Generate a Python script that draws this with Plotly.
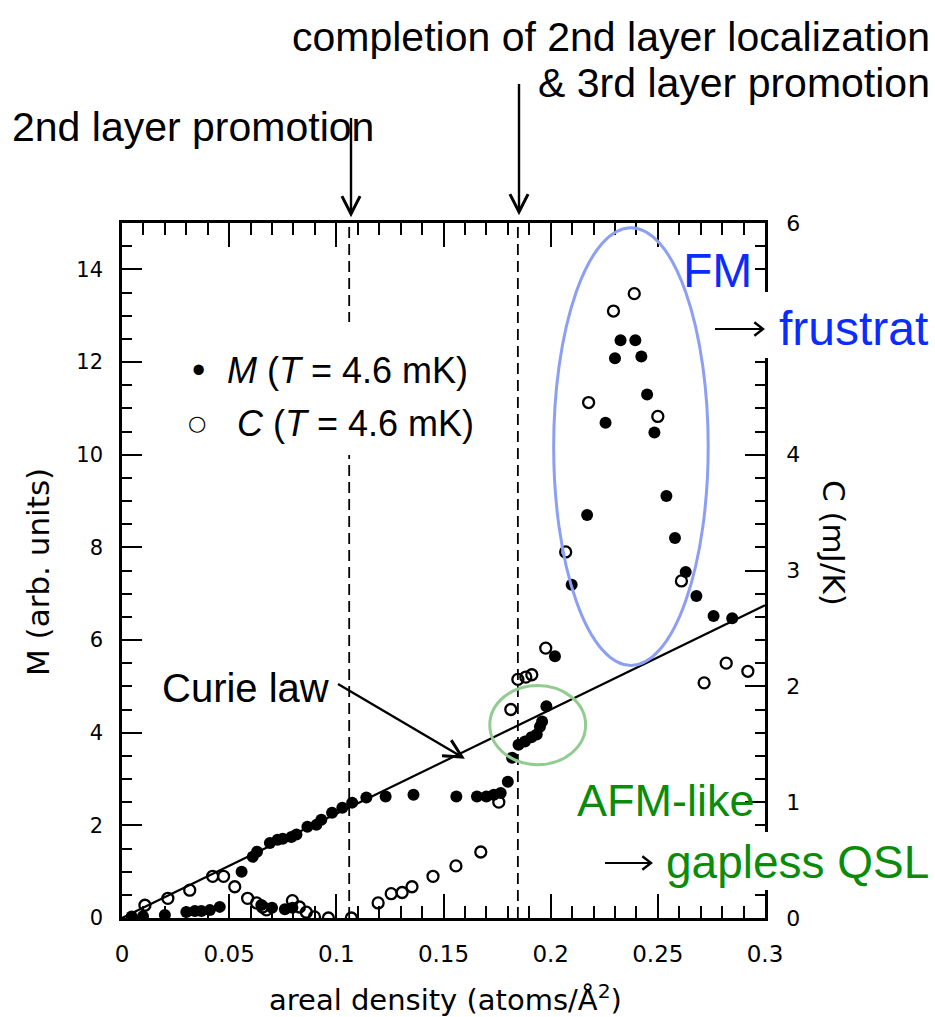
import math
import plotly.graph_objects as go

# Magnetization M (left axis, arb. units) vs areal density (atoms/Å^2)
M_x = [0.0045, 0.0098, 0.020, 0.030, 0.034, 0.037, 0.041, 0.0456, 0.0558, 0.061,
       0.063, 0.065, 0.069, 0.070, 0.0726, 0.075, 0.076, 0.079, 0.0795, 0.0814,
       0.0865, 0.0907, 0.093, 0.098, 0.1028, 0.1074, 0.114, 0.123, 0.136, 0.156,
       0.1656, 0.170, 0.1735, 0.1767, 0.180, 0.182, 0.185, 0.188, 0.191, 0.1935,
       0.195, 0.196, 0.198, 0.202, 0.2098, 0.217, 0.2256, 0.230, 0.2326, 0.2395,
       0.2423, 0.245, 0.2484, 0.254, 0.258, 0.263, 0.268, 0.276, 0.2847]
M_val = [0.03, 0.04, 0.065, 0.13, 0.15, 0.15, 0.17, 0.24, 1.0, 1.32,
         1.43, 0.28, 1.62, 0.22, 1.69, 1.71, 0.19, 1.75, 0.22, 1.80,
         1.97, 2.01, 2.12, 2.27, 2.38, 2.49, 2.60, 2.62, 2.66, 2.62,
         2.62, 2.62, 2.66, 2.70, 2.94, 3.46, 3.74, 3.81, 3.90, 3.96,
         4.13, 4.24, 4.57, 5.65, 7.19, 8.70, 10.69, 12.08, 12.47, 12.47,
         12.12, 11.30, 10.48, 9.11, 8.20, 7.47, 6.95, 6.52, 6.47]

# Heat capacity C (right axis, mJ/K)
C_x = [0.0107, 0.0214, 0.0316, 0.0423, 0.0474, 0.0526, 0.0586, 0.0628, 0.0656, 0.0674,
       0.0795, 0.0828, 0.086, 0.0898, 0.0963, 0.107, 0.1195, 0.1256, 0.1307, 0.1353,
       0.1451, 0.1558, 0.1674, 0.1758, 0.1814, 0.1847, 0.1884, 0.1912, 0.1977, 0.207,
       0.2177, 0.2293, 0.239, 0.250, 0.261, 0.2716, 0.2819, 0.292]
C_val = [0.11, 0.17, 0.24, 0.36, 0.36, 0.27, 0.17, 0.13, 0.095, 0.07,
         0.15, 0.095, 0.05, 0.01, 0.0, 0.0, 0.13, 0.21, 0.22, 0.27,
         0.36, 0.45, 0.57, 1.00, 1.80, 2.06, 2.08, 2.10, 2.33, 3.16,
         4.45, 5.24, 5.39, 4.33, 2.91, 2.03, 2.20, 2.13]

# Curie-law reference line
curie_x = [0.0, 0.3]
curie_M = [0.0, 6.75]

# Layer-promotion densities (dashed markers)
layer_marks = [0.106, 0.1847]

# Highlighted regions (data coordinates on x / left axis)
fm_region = dict(x0=0.2014, x1=0.2735, y0=5.45, y1=14.9)
afm_region = dict(x0=0.1716, x1=0.2163, y0=3.31, y1=5.02)

x_ticks = [0, 0.05, 0.1, 0.15, 0.2, 0.25, 0.3]
x_ticklabels = ["0", "0.05", "0.1", "0.15", "0.2", "0.25", "0.3"]
c_ticks = [0, 1, 2, 3, 4, 6]
c_ticklabels = ["0", "1", "2", "3", "4", "6"]

W, H = 935, 1017
PL, PR, PT, PB = 122, 765, 223, 918


def fx(xp):
    return (xp - PL) / (PR - PL)


def fy(yp):
    return (PB - yp) / (PB - PT)


AX_FONT = "DejaVu Sans"
TXT_FONT = "Liberation Sans"
BLUE = "#0a2cff"
GREEN = "#0a8c0a"

fig = go.Figure()

fig.add_trace(go.Scatter(x=curie_x, y=curie_M, mode="lines",
                         line=dict(color="black", width=2.2), showlegend=False,
                         hoverinfo="skip"))
fig.add_trace(go.Scatter(x=C_x, y=C_val, yaxis="y2", mode="markers",
                         marker=dict(symbol="circle-open", size=11, color="black",
                                     line=dict(width=2.3, color="black")),
                         showlegend=False))
fig.add_trace(go.Scatter(x=M_x, y=M_val, mode="markers",
                         marker=dict(symbol="circle", size=12, color="black"),
                         showlegend=False))

shapes = []
for xm in layer_marks:
    shapes.append(dict(type="line", xref="x", yref="paper", x0=xm, x1=xm, y0=0, y1=1,
                       line=dict(color="black", width=1.8, dash="11px,6px"), layer="below"))


def white_box(x0, x1, y0, y1):
    shapes.append(dict(type="rect", xref="paper", yref="paper",
                       x0=fx(x0), x1=fx(x1), y0=fy(y1), y1=fy(y0),
                       fillcolor="white", line=dict(width=0), layer="above"))


# white patches behind the legend and the right-hand callouts
white_box(180, 490, 322, 455)
white_box(709, 940, 292, 358)
white_box(598, 940, 832, 890)

shapes.append(dict(type="circle", xref="x", yref="y", **fm_region,
                   line=dict(color="#8c9ff4", width=3), layer="above"))
shapes.append(dict(type="circle", xref="x", yref="y", **afm_region,
                   line=dict(color="#93cc93", width=3), layer="above"))


def arrow(x_head, y_head, x_tail, y_tail, arm=20, half_deg=27, width=2.4):
    """Straight arrow with an open chevron head, given in page pixels."""
    shapes.append(dict(type="line", xref="paper", yref="paper",
                       x0=fx(x_tail), y0=fy(y_tail), x1=fx(x_head), y1=fy(y_head),
                       line=dict(color="black", width=width), layer="above"))
    dx, dy = x_tail - x_head, y_tail - y_head
    L = math.hypot(dx, dy)
    ux, uy = dx / L, dy / L
    pts = []
    for s in (1, -1):
        a = math.radians(half_deg) * s
        wx = ux * math.cos(a) - uy * math.sin(a)
        wy = ux * math.sin(a) + uy * math.cos(a)
        pts.append((x_head + arm * wx, y_head + arm * wy))
    path = (f"M {fx(pts[0][0])},{fy(pts[0][1])} L {fx(x_head)},{fy(y_head)} "
            f"L {fx(pts[1][0])},{fy(pts[1][1])}")
    shapes.append(dict(type="path", xref="paper", yref="paper", path=path,
                       line=dict(color="black", width=width + 0.6), layer="above"))


ann = []


def text(s, xp, yp, size, color="black", xanchor="left", family=TXT_FONT, **kw):
    ann.append(dict(text=s, x=fx(xp), y=fy(yp), xref="paper", yref="paper",
                    xanchor=xanchor, yanchor="middle", showarrow=False,
                    font=dict(family=family, size=size, color=color), **kw))


# layer-promotion callouts
text("completion of 2nd layer localization", 932, 37, 41, xanchor="right")
text("&amp; 3rd layer promotion", 932, 83, 41, xanchor="right")
text("2nd layer promotion", 10, 127, 41)
arrow(351, 214, 351, 118)
arrow(519, 212, 519, 84)

# legend
text("•", 198, 370, 38, xanchor="center")
text("<i>M</i> (<i>T</i> = 4.6 mK)", 225, 370, 36)
text("○", 197, 423, 21, xanchor="center", family="DejaVu Sans")
text("<i>C</i> (<i>T</i> = 4.6 mK)", 235, 423, 36)

# Curie law label
text("Curie law", 160, 688, 40)
arrow(462, 757, 338, 684)

# phase labels
text("FM", 717, 270, 48, color=BLUE, xanchor="center")
arrow(763, 329, 715, 329, arm=11, half_deg=38, width=1.8)
text("frustrat", 777, 328, 48, color=BLUE)
text("AFM-like", 666, 800, 45, color=GREEN, xanchor="center")
arrow(651, 863, 605, 863, arm=11, half_deg=38, width=1.8)
text("gapless QSL", 664, 862, 46, color=GREEN)

# axis titles
text("areal density (atoms/Å<sup>2</sup>)", 445, 998, 29, xanchor="center", family=AX_FONT)
ann.append(dict(text="M (arb. units)", x=fx(38), y=fy(572), xref="paper", yref="paper",
                xanchor="center", yanchor="middle", showarrow=False, textangle=-90,
                font=dict(family=AX_FONT, size=31, color="black")))
ann.append(dict(text="C (mJ/K)", x=fx(834), y=fy(543), xref="paper", yref="paper",
                xanchor="center", yanchor="middle", showarrow=False, textangle=90,
                font=dict(family=AX_FONT, size=31, color="black")))

fig.update_layout(
    width=W, height=H,
    margin=dict(l=PL, r=W - PR, t=PT, b=H - PB, pad=0),
    paper_bgcolor="white", plot_bgcolor="white",
    showlegend=False,
    shapes=shapes, annotations=ann,
    xaxis=dict(range=[0, 0.3], tickvals=x_ticks, ticktext=x_ticklabels,
               ticks="inside", ticklen=24, tickwidth=2, tickcolor="black",
               minor=dict(ticks="inside", dtick=0.01, tick0=0, ticklen=12,
                          tickwidth=2, tickcolor="black"),
               showline=True, linecolor="black", linewidth=2.5, mirror="ticks",
               showgrid=False, zeroline=False, ticklabelstandoff=14,
               tickfont=dict(family=AX_FONT, size=23, color="black")),
    yaxis=dict(range=[0, 15], dtick=2, tick0=0,
               ticks="inside", ticklen=20, tickwidth=2, tickcolor="black",
               minor=dict(ticks="inside", dtick=0.5, tick0=0, ticklen=10,
                          tickwidth=2, tickcolor="black"),
               showline=True, linecolor="black", linewidth=2.5,
               showgrid=False, zeroline=False, ticklabelstandoff=12,
               tickfont=dict(family=AX_FONT, size=21, color="black")),
    yaxis2=dict(range=[0, 6], tickvals=c_ticks, ticktext=c_ticklabels,
                overlaying="y", side="right",
                ticks="inside", ticklen=20, tickwidth=2, tickcolor="black",
                minor=dict(ticks="inside", dtick=0.2, tick0=0, ticklen=10,
                           tickwidth=2, tickcolor="black"),
                showline=True, linecolor="black", linewidth=2.5,
                showgrid=False, zeroline=False, ticklabelstandoff=14,
                tickfont=dict(family=AX_FONT, size=22, color="black")),
)

fig.write_html("out.html")
